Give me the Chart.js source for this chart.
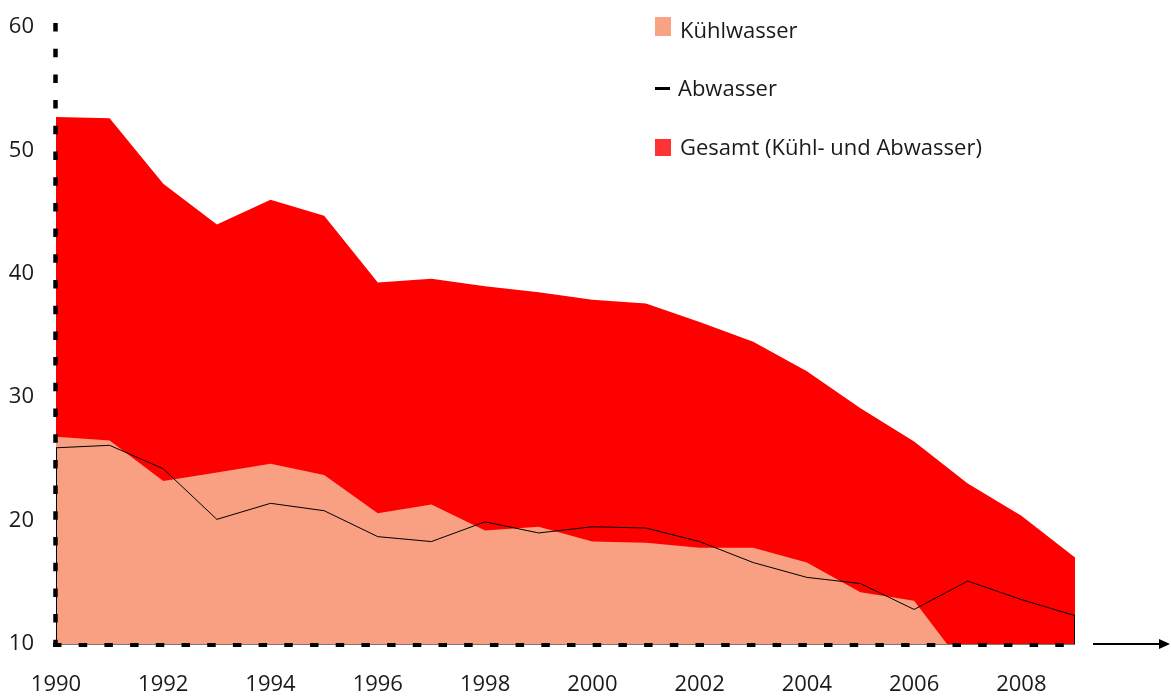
<!DOCTYPE html>
<html>
<head>
<meta charset="utf-8">
<script src="https://cdn.jsdelivr.net/npm/chart.js@4/dist/chart.umd.min.js"></script>
<style>
  html, body { margin: 0; padding: 0; background: #fff; }
  #wrap { position: relative; width: 1171px; height: 698px; }
  canvas { position: absolute; left: 0; top: 0; }
  .lg { position: absolute; font-family: "Open Sans", sans-serif; font-size: 22px; color: #1a1a1a; line-height: 26px; white-space: nowrap; }
  .sw { position: absolute; }
</style>
</head>
<body>
<div id="wrap">
  <canvas id="c" width="1171" height="698"></canvas>
  <div class="sw" style="left:655px;top:17px;width:16px;height:19px;background:#f9a385;"></div>
  <div class="lg" style="left:680px;top:16px;">Kühlwasser</div>
  <div class="sw" style="left:655px;top:87px;width:15px;height:3px;background:#000;"></div>
  <div class="lg" style="left:678px;top:74px;">Abwasser</div>
  <div class="sw" style="left:655px;top:139px;width:16px;height:17px;background:#ff3333;"></div>
  <div class="lg" style="left:680px;top:133px;">Gesamt (Kühl- und Abwasser)</div>
</div>
<script>
const years = ['1990','1991','1992','1993','1994','1995','1996','1997','1998','1999','2000','2001','2002','2003','2004','2005','2006','2007','2008','2009'];
const kuehlwasser = [26.8, 26.5, 23.2, 23.9, 24.6, 23.7, 20.6, 21.3, 19.2, 19.5, 18.3, 18.2, 17.8, 17.8, 16.6, 14.2, 13.5, 7.8, 7.0, 4.7];
const abwasser = [25.9, 26.1, 24.2, 20.1, 21.4, 20.8, 18.7, 18.3, 19.9, 19.0, 19.5, 19.4, 18.3, 16.6, 15.4, 14.9, 12.8, 15.1, 13.6, 12.3];
const gesamt = [52.7, 52.6, 47.3, 44.0, 46.0, 44.7, 39.3, 39.6, 39.0, 38.5, 37.9, 37.6, 36.1, 34.5, 32.1, 29.1, 26.4, 23.0, 20.4, 17.0];
const yTicks = [10, 20, 30, 40, 50, 60];

const FONT = { family: '"Open Sans", sans-serif', size: 22 };

const axesPlugin = {
  id: 'axesDeco',
  afterDatasetsDraw(chart) {
    const ctx = chart.ctx;
    const a = chart.chartArea;
    const ys = chart.scales.y;
    const yBase = ys.getPixelForValue(10);
    ctx.save();
    ctx.strokeStyle = '#000';
    ctx.lineWidth = 1;
    ctx.beginPath();
    ctx.moveTo(a.left + 0.5, ys.getPixelForValue(abwasser[0]));
    ctx.lineTo(a.left + 0.5, yBase);
    ctx.moveTo(a.right - 0.5, ys.getPixelForValue(abwasser[abwasser.length - 1]));
    ctx.lineTo(a.right - 0.5, yBase);
    ctx.stroke();
    ctx.strokeStyle = '#777';
    ctx.beginPath();
    ctx.moveTo(a.left, yBase + 0.5);
    ctx.lineTo(a.right, yBase + 0.5);
    ctx.stroke();
    ctx.strokeStyle = '#000';
    ctx.lineWidth = 4.5;
    ctx.setLineDash([8.5, 17.2]);
    ctx.beginPath();
    ctx.moveTo(a.left - 0.5, a.top - 4);
    ctx.lineTo(a.left - 0.5, yBase + 2);
    ctx.stroke();
    ctx.lineWidth = 4;
    ctx.beginPath();
    ctx.moveTo(a.left - 3, yBase + 1);
    ctx.lineTo(a.right, yBase + 1);
    ctx.stroke();
    ctx.restore();
  },
  afterDraw(chart) {
    const ctx = chart.ctx;
    const y = chart.scales.y.getPixelForValue(10);
    const x0 = chart.chartArea.right + 18;
    const x1 = 1170;
    ctx.save();
    ctx.strokeStyle = '#000';
    ctx.fillStyle = '#000';
    ctx.lineWidth = 2;
    ctx.beginPath();
    ctx.moveTo(x0, y);
    ctx.lineTo(x1 - 8, y);
    ctx.stroke();
    ctx.beginPath();
    ctx.moveTo(x1, y);
    ctx.lineTo(x1 - 11, y - 5);
    ctx.lineTo(x1 - 11, y + 5);
    ctx.closePath();
    ctx.fill();
    ctx.restore();
  }
};

new Chart(document.getElementById('c'), {
  type: 'line',
  data: {
    labels: years,
    datasets: [
      { label: 'Abwasser', data: abwasser, borderColor: '#000', borderWidth: 1, pointRadius: 0, fill: false, tension: 0, order: 0 },
      { label: 'Kühlwasser', data: kuehlwasser, borderColor: 'rgba(0,0,0,0)', borderWidth: 0, backgroundColor: '#f9a082', pointRadius: 0, fill: 'origin', tension: 0, order: 1 },
      { label: 'Gesamt (Kühl- und Abwasser)', data: gesamt, borderColor: 'rgba(0,0,0,0)', borderWidth: 0, backgroundColor: '#ff0000', pointRadius: 0, fill: 'origin', tension: 0, order: 2 }
    ]
  },
  options: {
    responsive: false,
    animation: false,
    layout: { padding: { top: 27, right: 96, left: 0, bottom: 0 } },
    plugins: { legend: { display: false }, tooltip: { enabled: false } },
    scales: {
      x: {
        type: 'category',
        offset: false,
        grid: { display: false, drawTicks: false },
        border: { display: false },
        ticks: {
          autoSkip: false, maxRotation: 0, padding: 28, color: '#1a1a1a', font: FONT,
          callback: function(v, i) { return (parseInt(years[i]) % 2 === 0) ? years[i] : ''; }
        },
        afterFit(s) { s.height = 54; s.paddingLeft = 0; s.paddingRight = 0; }
      },
      y: {
        min: 10, max: 60,
        grid: { display: false, drawTicks: false },
        border: { display: false },
        afterBuildTicks(s) { s.ticks = yTicks.map(v => ({ value: v })); },
        ticks: { padding: 22, color: '#1a1a1a', font: FONT },
        afterFit(s) { s.width = 56; s.paddingTop = 0; s.paddingBottom = 0; }
      }
    }
  },
  plugins: [axesPlugin]
});
</script>
</body>
</html>
